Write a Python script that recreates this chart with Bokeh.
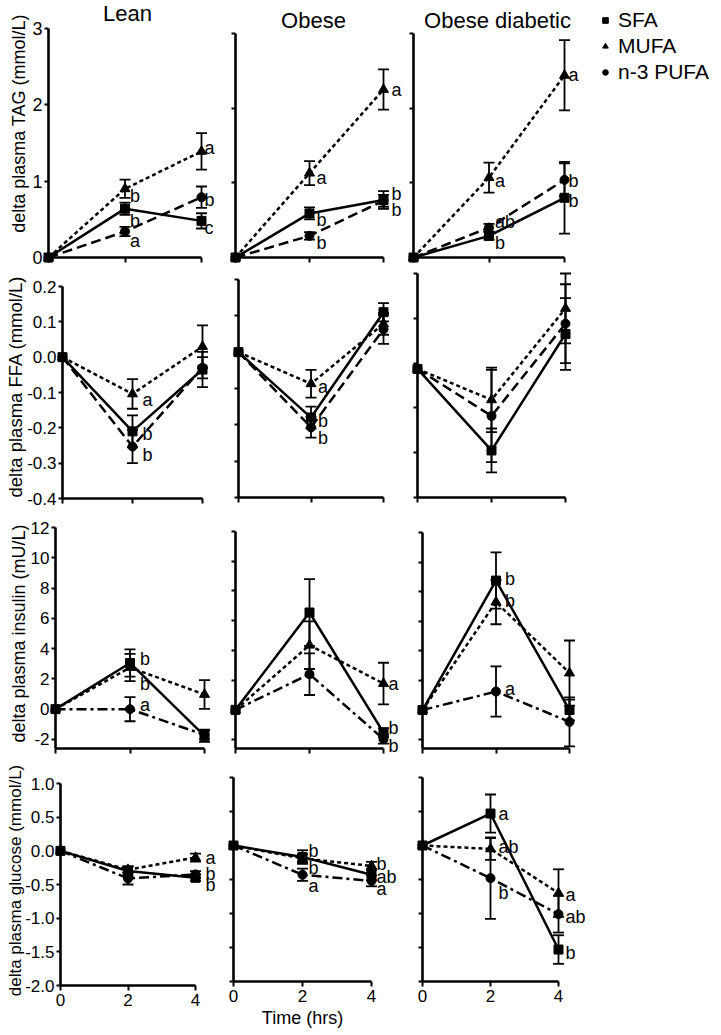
import math
from bokeh.plotting import figure
from bokeh.layouts import column, row
from bokeh.models import (Range1d, FixedTicker, NumeralTickFormatter, CustomJSTickFormatter,
                          Label, LabelSet, ColumnDataSource, Legend, LegendItem)
from bokeh.core.properties import value
from bokeh.embed import file_html
from bokeh.resources import INLINE

FONT = "Liberation Sans"

# ---------------- data ----------------
times = [0, 2, 4]
series = ["SFA", "MUFA", "n-3 PUFA"]
groups = ["Lean", "Obese", "Obese diabetic"]
y_axis_titles = ["delta plasma TAG (mmol/L)", "delta plasma FFA (mmol/L)",
                 "delta plasma insulin (mU/L)", "delta plasma glucose (mmol/L)"]
x_axis_title = "Time (hrs)"

# TAG (mmol/L)
tag_lean_sfa = [0.00, 0.64, 0.48];   tag_lean_sfa_sem = [0.0, 0.08, 0.10]
tag_lean_mufa = [0.00, 0.90, 1.39];  tag_lean_mufa_sem = [0.0, 0.12, 0.24]
tag_lean_pufa = [0.00, 0.34, 0.79];  tag_lean_pufa_sem = [0.0, 0.06, 0.14]
tag_obese_sfa = [0.00, 0.59, 0.77];  tag_obese_sfa_sem = [0.0, 0.08, 0.12]
tag_obese_mufa = [0.00, 1.13, 2.25]; tag_obese_mufa_sem = [0.0, 0.16, 0.27]
tag_obese_pufa = [0.00, 0.29, 0.76]; tag_obese_pufa_sem = [0.0, 0.05, 0.08]
tag_diab_sfa = [0.00, 0.29, 0.80];   tag_diab_sfa_sem = [0.0, 0.05, 0.48]
tag_diab_mufa = [0.00, 1.07, 2.44];  tag_diab_mufa_sem = [0.0, 0.20, 0.47]
tag_diab_pufa = [0.00, 0.40, 1.04];  tag_diab_pufa_sem = [0.0, 0.05, 0.22]

# FFA (mmol/L)
ffa_lean_sfa = [0.000, -0.210, -0.035];  ffa_lean_sfa_sem = [0.0, 0.045, 0.050]
ffa_lean_mufa = [0.000, -0.104, 0.030];  ffa_lean_mufa_sem = [0.0, 0.042, 0.060]
ffa_lean_pufa = [0.000, -0.253, -0.030]; ffa_lean_pufa_sem = [0.0, 0.047, 0.030]
ffa_obese_sfa = [0.000, -0.180, 0.110];  ffa_obese_sfa_sem = [0.0, 0.030, 0.025]
ffa_obese_mufa = [0.000, -0.087, 0.078]; ffa_obese_mufa_sem = [0.0, 0.038, 0.030]
ffa_obese_pufa = [0.000, -0.207, 0.063]; ffa_obese_pufa_sem = [0.0, 0.028, 0.040]
ffa_diab_sfa = [-0.013, -0.195, 0.065];  ffa_diab_sfa_sem = [0.0, 0.049, 0.080]
ffa_diab_mufa = [-0.013, -0.082, 0.122]; ffa_diab_mufa_sem = [0.0, 0.072, 0.078]
ffa_diab_pufa = [-0.013, -0.118, 0.088]; ffa_diab_pufa_sem = [0.0, 0.103, 0.088]

# insulin (mU/L)
ins_lean_sfa = [0.0, 3.05, -1.76];  ins_lean_sfa_sem = [0.0, 0.90, 0.40]
ins_lean_mufa = [0.0, 2.75, 0.97];  ins_lean_mufa_sem = [0.0, 0.90, 0.95]
ins_lean_pufa = [0.0, 0.00, -1.70]; ins_lean_pufa_sem = [0.0, 0.80, 0.30]
ins_obese_sfa = [0.0, 6.55, -1.53]; ins_obese_sfa_sem = [0.0, 2.24, 0.30]
ins_obese_mufa = [0.0, 4.35, 1.77]; ins_obese_mufa_sem = [0.0, 1.60, 1.40]
ins_obese_pufa = [0.0, 2.40, -1.97]; ins_obese_pufa_sem = [0.0, 1.40, 0.30]
ins_diab_sfa = [0.0, 8.75, 0.00];   ins_diab_sfa_sem = [0.0, 1.90, 0.70]
ins_diab_mufa = [0.0, 7.30, 2.50];  ins_diab_mufa_sem = [0.0, 1.50, 2.20]
ins_diab_pufa = [0.0, 1.25, -0.80]; ins_diab_pufa_sem = [0.0, 1.70, 1.65]

# glucose (mmol/L)
glu_lean_sfa = [0.0, -0.30, -0.40];  glu_lean_sfa_sem = [0.0, 0.07, 0.05]
glu_lean_mufa = [0.0, -0.28, -0.10]; glu_lean_mufa_sem = [0.0, 0.05, 0.06]
glu_lean_pufa = [0.0, -0.41, -0.35]; glu_lean_pufa_sem = [0.0, 0.09, 0.05]
glu_obese_sfa = [0.0, -0.17, -0.43]; glu_obese_sfa_sem = [0.0, 0.10, 0.08]
glu_obese_mufa = [0.0, -0.19, -0.30]; glu_obese_mufa_sem = [0.0, 0.06, 0.06]
glu_obese_pufa = [0.0, -0.43, -0.52]; glu_obese_pufa_sem = [0.0, 0.09, 0.08]
glu_diab_sfa = [0.0, 0.47, -1.53];   glu_diab_sfa_sem = [0.0, 0.28, 0.21]
glu_diab_mufa = [0.0, -0.05, -0.70]; glu_diab_mufa_sem = [0.0, 0.16, 0.35]
glu_diab_pufa = [0.0, -0.48, -1.01]; glu_diab_pufa_sem = [0.0, 0.60, 0.27]

# significance letters: (time, y, letter)
letters_tag_lean = [(2, 0.81, "b"), (2, 0.48, "b"), (2, 0.22, "a"), (4, 1.43, "a"), (4, 0.75, "b"), (4, 0.38, "c")]
letters_tag_obese = [(2, 1.06, "a"), (2, 0.50, "b"), (2, 0.20, "b"), (4, 2.24, "a"), (4, 0.85, "b"), (4, 0.63, "b")]
letters_tag_diab = [(2, 1.03, "a"), (2, 0.47, "ab"), (2, 0.19, "b"), (4, 2.44, "a"), (4, 1.03, "b"), (4, 0.76, "b")]
letters_ffa_lean = [(2, -0.121, "a"), (2, -0.217, "b"), (2, -0.277, "b")]
letters_ffa_obese = [(2, -0.097, "a"), (2, -0.189, "b"), (2, -0.235, "b")]
letters_ffa_diab = []
letters_ins_lean = [(2, 3.34, "b"), (2, 1.69, "b"), (2, 0.26, "a")]
letters_ins_obese = [(4, 1.77, "a"), (4, -1.23, "b"), (4, -2.42, "b")]
letters_ins_diab = [(2, 8.85, "b"), (2, 7.34, "b"), (2, 1.42, "a")]
letters_glu_lean = [(4, -0.11, "a"), (4, -0.34, "b"), (4, -0.51, "b")]
letters_glu_obese = [(2, -0.074, "b"), (2, -0.33, "b"), (2, -0.59, "a"), (4, -0.27, "b"), (4, -0.46, "ab"), (4, -0.64, "a")]
letters_glu_diab = [(2, 0.47, "a"), (2, -0.02, "ab"), (2, -0.70, "b"), (4, -0.73, "a"), (4, -1.05, "ab"), (4, -1.58, "b")]

y_limits = [[(0, 3), (0, 3), (0, 3)],
            [(-0.4, 0.2), (-0.4, 0.2), (-0.3, 0.2)],
            [(-2.6, 12), (-2.6, 12), (-2.6, 12)],
            [(-2.0, 1.0), (-2.0, 1.0), (-2.0, 1.0)]]
y_ticks = [[[0, 1, 2, 3]] * 3,
           [[-0.4, -0.3, -0.2, -0.1, 0.0, 0.1, 0.2]] * 2 + [[-0.3, -0.2, -0.1, 0.0, 0.1, 0.2]],
           [[-2, 0, 2, 4, 6, 8, 10, 12]] * 3,
           [[-2.0, -1.5, -1.0, -0.5, 0.0, 0.5, 1.0]] * 3]
y_formats = ["0", "0.0", "0", "0.0"]

DATA = [
    [[(tag_lean_sfa, tag_lean_sfa_sem), (tag_lean_mufa, tag_lean_mufa_sem), (tag_lean_pufa, tag_lean_pufa_sem)],
     [(tag_obese_sfa, tag_obese_sfa_sem), (tag_obese_mufa, tag_obese_mufa_sem), (tag_obese_pufa, tag_obese_pufa_sem)],
     [(tag_diab_sfa, tag_diab_sfa_sem), (tag_diab_mufa, tag_diab_mufa_sem), (tag_diab_pufa, tag_diab_pufa_sem)]],
    [[(ffa_lean_sfa, ffa_lean_sfa_sem), (ffa_lean_mufa, ffa_lean_mufa_sem), (ffa_lean_pufa, ffa_lean_pufa_sem)],
     [(ffa_obese_sfa, ffa_obese_sfa_sem), (ffa_obese_mufa, ffa_obese_mufa_sem), (ffa_obese_pufa, ffa_obese_pufa_sem)],
     [(ffa_diab_sfa, ffa_diab_sfa_sem), (ffa_diab_mufa, ffa_diab_mufa_sem), (ffa_diab_pufa, ffa_diab_pufa_sem)]],
    [[(ins_lean_sfa, ins_lean_sfa_sem), (ins_lean_mufa, ins_lean_mufa_sem), (ins_lean_pufa, ins_lean_pufa_sem)],
     [(ins_obese_sfa, ins_obese_sfa_sem), (ins_obese_mufa, ins_obese_mufa_sem), (ins_obese_pufa, ins_obese_pufa_sem)],
     [(ins_diab_sfa, ins_diab_sfa_sem), (ins_diab_mufa, ins_diab_mufa_sem), (ins_diab_pufa, ins_diab_pufa_sem)]],
    [[(glu_lean_sfa, glu_lean_sfa_sem), (glu_lean_mufa, glu_lean_mufa_sem), (glu_lean_pufa, glu_lean_pufa_sem)],
     [(glu_obese_sfa, glu_obese_sfa_sem), (glu_obese_mufa, glu_obese_mufa_sem), (glu_obese_pufa, glu_obese_pufa_sem)],
     [(glu_diab_sfa, glu_diab_sfa_sem), (glu_diab_mufa, glu_diab_mufa_sem), (glu_diab_pufa, glu_diab_pufa_sem)]],
]
LETTERS = [[letters_tag_lean, letters_tag_obese, letters_tag_diab],
           [letters_ffa_lean, letters_ffa_obese, letters_ffa_diab],
           [letters_ins_lean, letters_ins_obese, letters_ins_diab],
           [letters_glu_lean, letters_glu_obese, letters_glu_diab]]

# ---------------- layout (page pixels) ----------------
ROW_EDGES = [0, 270, 510, 756, 1032]
COL_EDGES = [0, 219, 403, 720]
# x=0 px, x=4 px, y=ymax px, y=ymin px
GEOM = [[(48, 201, 28, 257), (235, 383, 33, 257), (413, 564, 33, 257)],
        [(62, 202, 286, 498), (238, 383, 279, 497), (417, 565, 273, 497)],
        [(55, 204, 527, 748), (235, 383, 531, 748), (422, 569, 532, 748)],
        [(60, 195, 783, 985), (233, 371, 777, 981), (422, 558, 777, 981)]]
LETTER_DX = [[(5, 3), (7, 8), (6, 4)],
             [(10, 8), (7, 8), (8, 8)],
             [(10, 8), (8, 5), (9, 8)],
             [(8, 10), (6, 5), (8, 7)]]
TITLE_POS = [(127, 13), (313, 20), (497, 20)]
YLABEL_SIZE = ["18px", "18.5px", "18px", "17px"]
YLABEL_CENTER = [(18, 123), (14.5, 386), (18, 633), (14.5, 880)]
LEGEND_TOPLEFT = (598, 7)
LEGEND_ROW = 26

STYLE = {
    "SFA": dict(marker="square", size=9),
    "MUFA": dict(marker="triangle", size=10),
    "n-3 PUFA": dict(marker="circle", size=9),
}
DASH_TOP = {"SFA": "solid", "MUFA": "4 3", "n-3 PUFA": "10 5"}
DASH_BOTTOM = {"SFA": "solid", "MUFA": "4 3", "n-3 PUFA": "10 4 3 4"}

legend_renderers = {}


def build_panel(r, c):
    fx0, fx1 = COL_EDGES[c], COL_EDGES[c + 1]
    fy0, fy1 = ROW_EDGES[r], ROW_EDGES[r + 1]
    X0, X4, Yt, Yb = GEOM[r][c]
    ymin, ymax = y_limits[r][c]
    ppx = (X4 - X0) / 4.0
    ppy = (Yb - Yt) / (ymax - ymin)
    # the frame fills the whole figure; axes sit at data positions
    p = figure(width=fx1 - fx0, height=fy1 - fy0,
               x_range=Range1d((fx0 - X0) / ppx, 4 + (fx1 - X4) / ppx),
               y_range=Range1d(ymin - (fy1 - Yb) / ppy, ymax + (Yt - fy0) / ppy),
               min_border_left=0, min_border_right=0,
               min_border_top=0, min_border_bottom=0,
               output_backend="svg", toolbar_location=None)
    p.grid.visible = False
    p.outline_line_color = None
    p.background_fill_color = "white"
    p.border_fill_color = "white"

    p.xaxis.fixed_location = ymin
    p.yaxis.fixed_location = 0
    p.xaxis.bounds = (0, 4)
    p.yaxis.bounds = (ymin, ymax)
    p.xaxis.ticker = FixedTicker(ticks=times)
    p.yaxis.ticker = FixedTicker(ticks=y_ticks[r][c])
    for ax in (p.xaxis[0], p.yaxis[0]):
        ax.axis_line_width = 2.6
        ax.axis_line_color = "black"
        ax.major_tick_line_width = 2
        ax.major_tick_line_color = "black"
        ax.major_tick_in = 0
        ax.minor_tick_line_color = None
        ax.major_label_text_font = FONT
        ax.major_label_text_color = "black"
        ax.axis_label_text_font = FONT
        ax.axis_label_text_color = "black"
        ax.axis_label_text_font_style = "normal"
    p.yaxis.major_tick_out = 4
    p.xaxis.major_tick_out = 5
    if c == 0:
        p.yaxis.formatter = NumeralTickFormatter(format=y_formats[r])
        p.yaxis.major_label_text_font_size = "18px" if r == 0 else "17px"
        p.yaxis.major_label_standoff = 2
        cx, cy = YLABEL_CENTER[r]
        p.add_layout(Label(x=0, y=ymin, x_offset=cx - X0, y_offset=Yb - cy,
                           angle=math.pi / 2, text=y_axis_titles[r],
                           text_align="center", text_baseline="middle",
                           text_font=FONT, text_font_size=YLABEL_SIZE[r],
                           text_color="black"))
    else:
        p.yaxis.formatter = CustomJSTickFormatter(code="return ''")
    if r == 3:
        p.xaxis.formatter = NumeralTickFormatter(format="0")
        p.xaxis.major_label_text_font_size = "17px"
        p.xaxis.major_label_standoff = 3
        if c == 1:
            p.xaxis.axis_label = x_axis_title
            p.xaxis.axis_label_text_font_size = "18px"
            p.xaxis.axis_label_standoff = 3
    else:
        p.xaxis.formatter = CustomJSTickFormatter(code="return ''")

    dashes = DASH_TOP if r < 2 else DASH_BOTTOM
    for k, name in enumerate(series):
        vals, sem = DATA[r][c][k]
        src = ColumnDataSource(dict(t=times, y=vals))
        p.line("t", "y", source=src, line_color="black", line_width=2.5,
               line_dash=dashes[name])
    for k, name in enumerate(series):
        vals, sem = DATA[r][c][k]
        et = [t for t, e in zip(times, sem) if e > 0]
        lo = [v - e for v, e in zip(vals, sem) if e > 0]
        hi = [v + e for v, e in zip(vals, sem) if e > 0]
        esrc = ColumnDataSource(dict(t=et, lo=lo, hi=hi))
        p.segment(x0="t", y0="lo", x1="t", y1="hi", source=esrc,
                  line_color="black", line_width=1.8)
        p.scatter("t", "lo", source=esrc, marker="dash", size=11,
                  line_color="black", line_width=1.8)
        p.scatter("t", "hi", source=esrc, marker="dash", size=11,
                  line_color="black", line_width=1.8)
    for k, name in enumerate(series):
        vals, sem = DATA[r][c][k]
        src = ColumnDataSource(dict(t=times, y=vals))
        st = STYLE[name]
        mr = p.scatter("t", "y", source=src, marker=st["marker"], size=st["size"],
                       fill_color="black", line_color="black", line_width=1)
        if r == 0 and c == 2:
            stub = p.line(x=[], y=[], line_color="black", line_width=2)
            legend_renderers[name] = [stub, mr]

    lets = LETTERS[r][c]
    for tt, dx in zip((2, 4), LETTER_DX[r][c]):
        sel = [l for l in lets if l[0] == tt]
        if not sel:
            continue
        lsrc = ColumnDataSource(dict(t=[l[0] for l in sel], y=[l[1] for l in sel],
                                     txt=[l[2] for l in sel]))
        p.add_layout(LabelSet(x="t", y="y", text="txt", source=lsrc, x_offset=dx,
                              text_align="left", text_baseline="middle",
                              text_font=value(FONT), text_font_size=value("18px"),
                              text_color="black"))

    if r == 0:
        tx, ty = TITLE_POS[c]
        p.add_layout(Label(x=2, y=ymax, x_offset=tx - (X0 + X4) / 2.0, y_offset=Yt - ty,
                           text=groups[c], text_align="center", text_baseline="middle",
                           text_font=FONT, text_font_size="22px", text_color="black"))
    if r == 0 and c == 2:
        items = [LegendItem(label=n, renderers=legend_renderers[n]) for n in series]
        lx, ly = LEGEND_TOPLEFT
        leg = Legend(items=items,
                     location=(lx - fx0, fy1 - ly - LEGEND_ROW * len(series)),
                     orientation="vertical", padding=0, margin=0, spacing=0,
                     glyph_width=14, glyph_height=LEGEND_ROW, label_height=LEGEND_ROW,
                     label_standoff=6, label_text_font=FONT,
                     label_text_font_size="21px", label_text_color="black",
                     label_text_baseline="middle",
                     border_line_color=None, background_fill_alpha=0)
        p.add_layout(leg, "center")
    return p


rows = []
for r in range(4):
    rows.append(row(*[build_panel(r, c) for c in range(3)]))
layout = column(*rows)

open("out.html", "w").write(file_html(layout, INLINE))
